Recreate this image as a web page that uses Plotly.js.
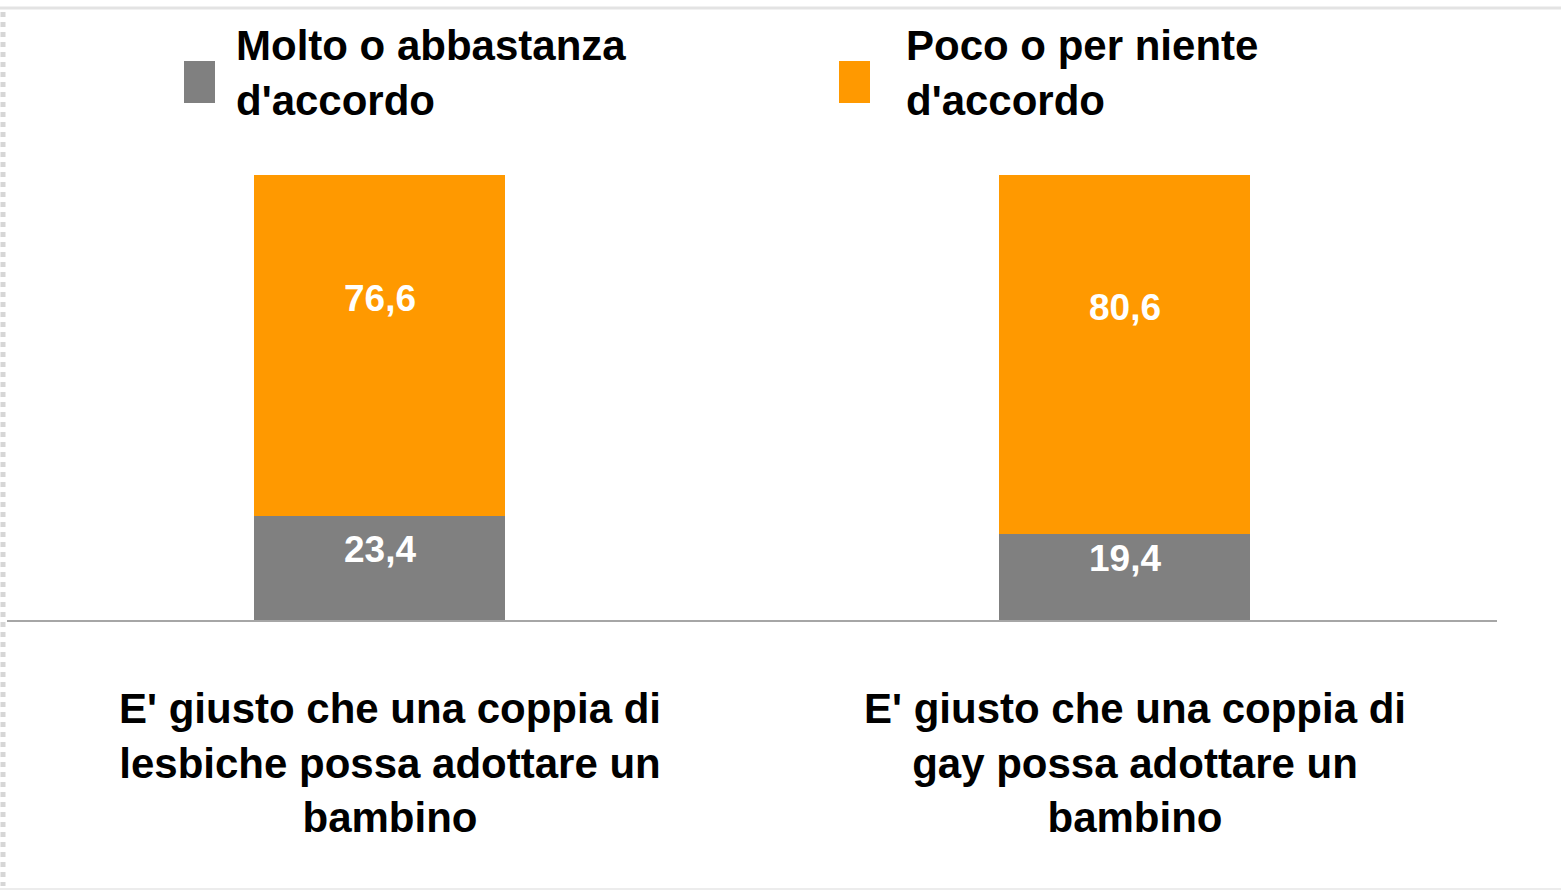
<!DOCTYPE html>
<html>
<head>
<meta charset="utf-8">
<script src="https://cdn.plot.ly/plotly-3.0.1.min.js"></script>
<style>
html,body{margin:0;padding:0;background:#fff;}
#chart{width:1561px;height:891px;}
</style>
</head>
<body>
<div id="chart"></div>
<script>
var categories = ["lesbiche", "gay"];
var categoryLabels = [
  "E' giusto che una coppia di<br>lesbiche possa adottare un<br>bambino",
  "E' giusto che una coppia di<br>gay possa adottare un<br>bambino"
];
var seriesNames = ["Molto o abbastanza<br>d'accordo", "Poco o per niente<br>d'accordo"];
var accordo = [23.4, 19.4];
var disaccordo = [76.6, 80.6];
var colors = ["#808080", "#FF9900"];

function fmt(v){ return v.toFixed(1).replace('.', ','); }

var traces = [
  {type:'bar', x:categories, y:accordo, name:seriesNames[0], marker:{color:colors[0]}, hoverinfo:'skip'},
  {type:'bar', x:categories, y:disaccordo, name:seriesNames[1], marker:{color:colors[1]}, hoverinfo:'skip'}
];

var pw = 1490, ph = 445;
function px(x){ return (x-7)/pw; }
function py(y){ return (620-y)/ph; }

var annotations = [];
var labelFont = {family:"Liberation Sans Narrow, Liberation Sans, Arial, sans-serif", size:37, color:'#ffffff', weight:'bold'};
categories.forEach(function(c, i){
  annotations.push({x:c, y:accordo[i]/2, xref:'x', yref:'y', text:fmt(accordo[i]), showarrow:false, yshift:18, font:labelFont});
  annotations.push({x:c, y:accordo[i] + disaccordo[i]/2, xref:'x', yref:'y', text:fmt(disaccordo[i]), showarrow:false, yshift:47, font:labelFont});
  annotations.push({x:c, y:0, xref:'x', yref:'paper', text:categoryLabels[i], showarrow:false, yanchor:'middle', yshift:-143, xshift:10,
    align:'center', font:{family:"Liberation Sans, Arial, sans-serif", size:42, color:'#000', weight:'bold'}});
});
// legend
var legendX = [234, 904];
var swatchX = [184, 839];
var shapes = [];
seriesNames.forEach(function(n, i){
  annotations.push({x:px(legendX[i]), y:py(72.5), xref:'paper', yref:'paper', xanchor:'left', yanchor:'middle', align:'left',
    text:n, showarrow:false, font:{family:"Liberation Sans, Arial, sans-serif", size:42, color:'#000', weight:'bold'}});
});
[0,1].forEach(function(i){
  shapes.push({type:'rect', xref:'paper', yref:'paper', x0:px(swatchX[i]), x1:px(swatchX[i]+31), y0:py(103), y1:py(61), fillcolor:colors[i], line:{width:0}});
});
shapes.push({type:'line', xref:'paper', yref:'paper', x0:px(0), x1:px(1561), y0:py(8), y1:py(8), line:{color:'#e3e3e3', width:3}});
shapes.push({type:'line', xref:'paper', yref:'paper', x0:px(0), x1:px(1561), y0:py(889), y1:py(889), line:{color:'#ececec', width:2}});
shapes.push({type:'line', xref:'paper', yref:'paper', x0:px(3), x1:px(3), y0:py(12), y1:py(886), line:{color:'#d6d6d6', width:5, dash:'dot'}});

var layout = {
  width:1561, height:891,
  margin:{l:7, r:64, t:175, b:271},
  paper_bgcolor:'#ffffff', plot_bgcolor:'#ffffff',
  barmode:'stack', bargap:0.664,
  showlegend:false,
  xaxis:{type:'category', showline:true, linecolor:'#A6A6A6', linewidth:1.5, showticklabels:false, ticks:'', showgrid:false, zeroline:false, fixedrange:true},
  yaxis:{range:[0,100], visible:false, fixedrange:true},
  annotations:annotations,
  shapes:shapes
};
Plotly.newPlot('chart', traces, layout, {displayModeBar:false, staticPlot:true});
</script>
</body>
</html>
